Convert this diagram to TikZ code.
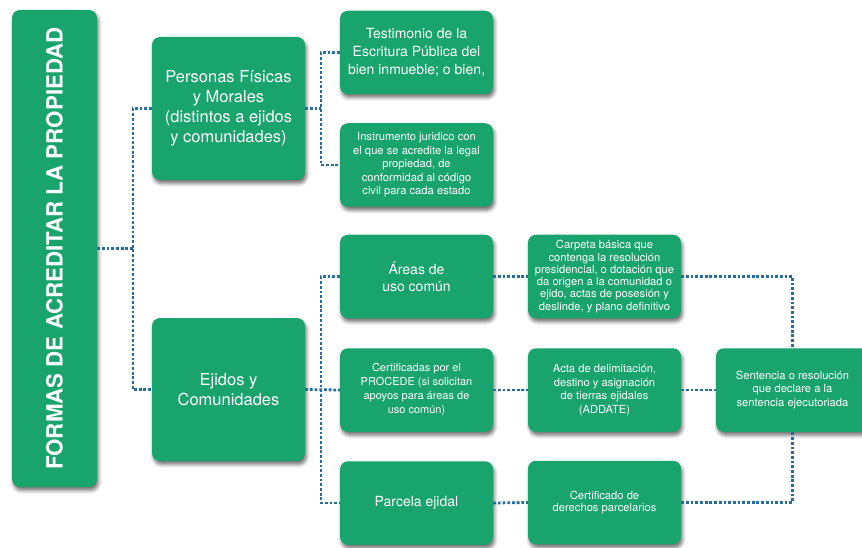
\documentclass[tikz,border=0pt]{standalone}
\usepackage{fontspec}
\setmainfont{TeX Gyre Heros}
\usetikzlibrary{shadows.blur}
\definecolor{boxgreen}{RGB}{24,164,108}
\definecolor{dotblue}{RGB}{38,108,160}
\tikzset{
  gbox/.style={draw=none, fill=boxgreen, rounded corners=8pt, text=white, align=center, inner sep=0pt,
    minimum width=153pt, minimum height=83.5pt,
    blur shadow={shadow xshift=1.5pt, shadow yshift=-3.5pt, shadow blur radius=3.5pt, shadow opacity=55}},
  conn/.style={draw=dotblue, line width=2.8pt, dash pattern=on 2.8pt off 1.9pt},
  fbig/.style={font=\fontsize{16.5}{20}\selectfont},
  fmid/.style={font=\fontsize{14}{17.5}\selectfont},
  fsmall/.style={font=\fontsize{11.2}{13.5}\selectfont},
}
\begin{document}
\begin{tikzpicture}[x=1pt,y=-1pt]
\useasboundingbox (0,0) rectangle (862,548);
\clip (0,0) rectangle (862,548);
% title
\node[gbox, minimum width=85pt, minimum height=477pt] (title) at (54.5,248.5) {};
\node[rotate=90, text=white, font=\fontsize{22.3}{26}\selectfont\bfseries] (titletext) at (title.center) {FORMAS DE ACREDITAR LA PROPIEDAD};
% level 1
\node[gbox, fbig, minimum height=143pt] (pers) at (228.5,108.5) {Personas Físicas\\y Morales\\(distintos a ejidos\\y comunidades)};
\node[gbox, fbig, minimum height=143pt] (ejid) at (228.5,389.5) {Ejidos y\\Comunidades};
% level 2
\node[gbox, font=\fontsize{14}{18}\selectfont] (test) at (416.5,52.5) {Testimonio de la\\Escritura Pública del\\bien inmueble; o bien,};
\node[gbox, fsmall] (inst) at (416.5,165) {Instrumento juridico con\\el que se acredite la legal\\propiedad, de\\conformidad al código\\civil para cada estado};
\node[gbox, fmid] (areas) at (416.5,276.5) {Áreas de\\uso común};
\node[gbox, font=\fontsize{11}{14}\selectfont] (cert) at (416.5,390) {Certificadas por el\\PROCEDE (si solicitan\\apoyos para áreas de\\uso común)};
\node[gbox, fmid] (parc) at (416.5,503) {Parcela ejidal};
% level 3
\node[gbox, font=\fontsize{11.2}{12.3}\selectfont] (carp) at (604.5,276.5) {Carpeta básica que\\contenga la resolución\\presidencial, o dotación que\\da origen a la comunidad o\\ejido, actas de posesión y\\deslinde, y plano definitivo};
\node[gbox, fsmall] (acta) at (604.5,390) {Acta de delimitación,\\destino y asignación\\de tierras ejidales\\(ADDATE)};
\node[gbox, font=\fontsize{11.2}{12.7}\selectfont] (certd) at (604.5,502.5) {Certificado de\\derechos parcelarios};
% level 4
\node[gbox, fsmall] (sent) at (792.5,390) {Sentencia o resolución\\que declare a la\\sentencia ejecutoriada};
% junctions
\coordinate (j1) at (133,248.5);
\coordinate (j2) at (321,108.5);
\coordinate (j3) at (321,389.5);
% connectors
\draw[conn] (title.east) -- (j1);
\draw[conn] (pers.west) -| (j1) |- (ejid.west);
\draw[conn] (pers.east) -- (j2);
\draw[conn] (test.west) -| (j2) |- (inst.west);
\draw[conn] (ejid.east) -- (cert.west);
\draw[conn] (areas.west) -| (j3) |- (parc.west);
\draw[conn] (areas.east) -- (carp.west);
\draw[conn] (cert.east) -- (acta.west);
\draw[conn] (parc.east) -- (certd.west);
\draw[conn] (acta.east) -- (sent.west);
\draw[conn] (carp.east) -| (sent.north);
\draw[conn] (certd.east) -| (sent.south);
\end{tikzpicture}
\end{document}
